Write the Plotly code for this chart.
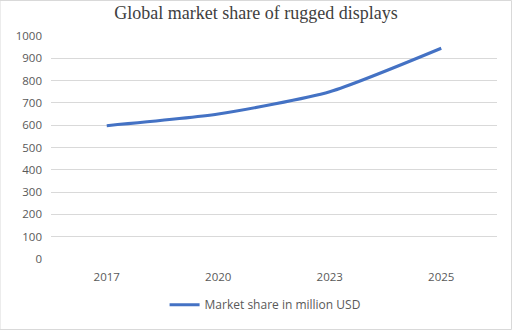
import plotly.graph_objects as go

years = ["2017", "2020", "2023", "2025"]
market_share = [598, 650, 750, 945]
y_ticks = list(range(0, 1001, 100))

fig = go.Figure()
fig.add_trace(go.Scatter(
    x=years, y=market_share, mode="lines",
    line=dict(color="#4472C4", width=3, shape="spline", smoothing=0.6),
    name="Market share in million USD",
))

fig.update_layout(
    width=512, height=330,
    margin=dict(l=51, r=15, t=36, b=71, autoexpand=False),
    paper_bgcolor="white", plot_bgcolor="white",
    title=dict(text="Global market share of rugged displays",
               font=dict(family="Liberation Serif", size=18, color="#404040"),
               x=0.5, xanchor="center", y=0.962, yanchor="middle"),
    showlegend=True,
    legend=dict(orientation="h", x=0.48, xanchor="center", y=-0.205, yanchor="middle",
                font=dict(family="Open Sans", size=12, color="#595959"),
                itemwidth=30),
    xaxis=dict(type="category", range=[-0.5, 3.5], showgrid=False, zeroline=False,
               showline=False, ticks="", ticklabelstandoff=9,
               tickfont=dict(family="Open Sans", size=11.5, color="#595959")),
    yaxis=dict(range=[0, 1000], tickvals=y_ticks, showgrid=True, gridcolor="#d9d9d9",
               gridwidth=1, zeroline=False, showline=False, ticks="", ticklabelstandoff=8,
               tickfont=dict(family="Open Sans", size=11.5, color="#595959")),
    shapes=[dict(type="rect", xref="paper", yref="paper",
                 x0=-51/446, x1=1 + 14.5/446, y0=-70.5/223, y1=1 + 35.5/223,
                 line=dict(color="#d9d9d9", width=1), layer="below")],
)

fig.write_html("out.html")
